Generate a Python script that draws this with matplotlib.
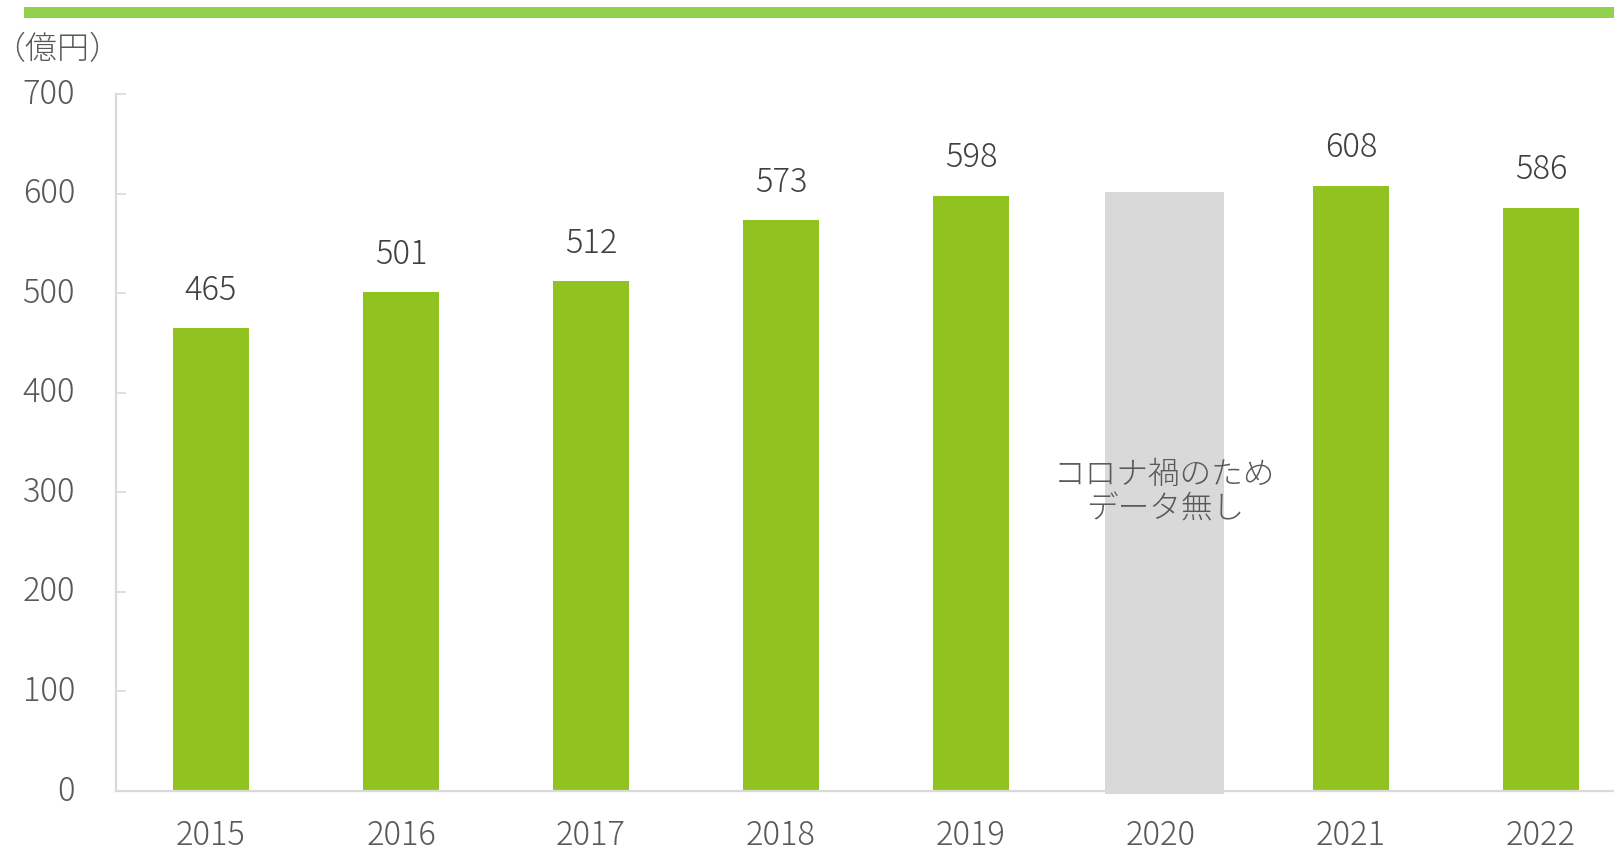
import matplotlib
matplotlib.use("Agg")
import matplotlib.pyplot as plt
import matplotlib.transforms as mtransforms
from matplotlib.patches import Rectangle

plt.rcParams['font.family'] = ['Noto Sans CJK JP', 'DejaVu Sans']
plt.rcParams['font.weight'] = 'light'

years = ["2015", "2016", "2017", "2018", "2019", "2020", "2021", "2022"]
values = [465, 501, 512, 573, 598, None, 608, 586]
nodata_index = 5
nodata_height = 605
nodata_text = "コロナ禍のため\nデータ無し"
unit_label = "（億円）"
yticks = [0, 100, 200, 300, 400, 500, 600, 700]

W, H = 1614, 848
fig = plt.figure(figsize=(W / 100, H / 100), dpi=100)
fig.patch.set_facecolor("white")

# top decorative band
fig.patches.append(Rectangle((24 / W, 1 - 18 / H), 1 - 24 / W, 11 / H,
                             transform=fig.transFigure, facecolor="#92D050",
                             edgecolor="none", zorder=0))

left, right, bottom, top = 116, 1614, 791, 94
ax = fig.add_axes([left / W, 1 - bottom / H, (right - left) / W, (bottom - top) / H])
ax.set_ylim(0, 700)
ax.set_xlim(-0.5, -0.5 + (right - left) / 190)

green = "#90C320"
xs = [i for i, v in enumerate(values) if v is not None]
vs = [v for v in values if v is not None]
ax.bar(xs, vs, width=0.4, color=green, zorder=2)
ax.bar([nodata_index + 0.018], [nodata_height], width=0.63, bottom=-3, color="#D9D9D9",
       zorder=1, clip_on=False)

num_size = 23.5
for x, v in zip(xs, vs):
    ax.annotate(str(v), (x, v), xytext=(0, 27), textcoords="offset points",
                ha="center", va="center", fontsize=num_size, color="#404040")

ax.text(nodata_index + 0.02, 300, nodata_text, ha="center", va="center",
        fontsize=22.8, color="#595959", linespacing=1.12, zorder=3)

for s in ["top", "right"]:
    ax.spines[s].set_visible(False)
for s in ["left", "bottom"]:
    ax.spines[s].set_color("#D9D9D9")
    ax.spines[s].set_linewidth(1.6)

ax.set_yticks(yticks)
ax.set_yticklabels([str(t) for t in yticks])
ax.tick_params(axis="y", direction="in", length=7, width=1.2, color="#D9D9D9",
               labelsize=num_size, labelcolor="#595959", pad=29.5)
shift = mtransforms.ScaledTranslation(0, 2.6 / 72, fig.dpi_scale_trans)
for lab in ax.get_yticklabels():
    lab.set_transform(lab.get_transform() + shift)
ax.set_xticks(range(len(years)))
ax.set_xticklabels(years)
ax.tick_params(axis="x", length=0, labelsize=num_size, labelcolor="#595959", pad=20)

fig.text(57.5 / W, 1 - 50 / H, unit_label, ha="center", va="center",
         fontsize=23, color="#595959")

fig.savefig("out.png", dpi=100, facecolor="white")
